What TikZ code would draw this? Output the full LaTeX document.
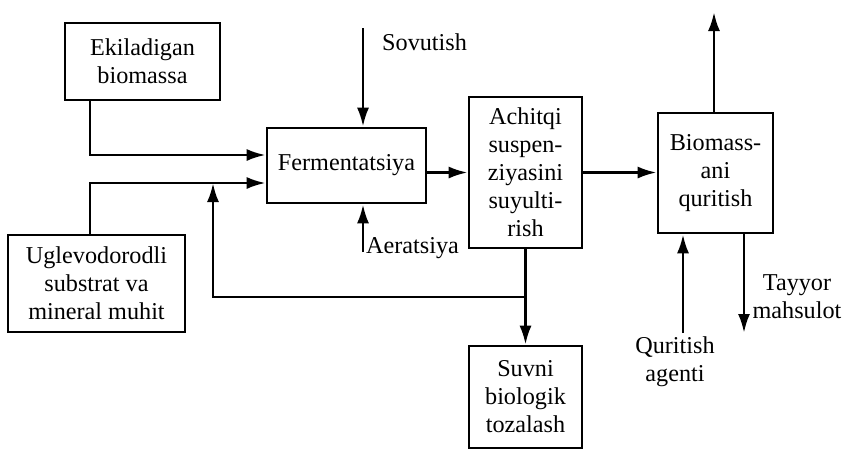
\documentclass[tikz,border=0pt]{standalone}
\usepackage{fontspec}
\setmainfont{Liberation Serif}
\usetikzlibrary{arrows.meta,positioning,calc}
\tikzset{
  base/.style={align=center, inner sep=2pt, font=\fontsize{24.2}{28}\selectfont, text=black},
  card/.style={base, draw=black, line width=2.6pt},
  arr/.style={-{Latex[length=19pt,width=12pt]}, line width=2.8pt},
  lab/.style={base},
}
\begin{document}
\begin{tikzpicture}[x=1pt, y=-1pt]
    \useasboundingbox (0,0) rectangle (846,450);
    \node[card, minimum width=155pt, minimum height=77pt] (eki) at (142.5,61.5) {Ekiladigan\\biomassa};
    \node[card, minimum width=177pt, minimum height=97pt] (ugl) at (96.5,283.5) {Uglevodorodli\\substrat va\\mineral muhit};
    \node[card, minimum width=159pt, minimum height=75pt] (ferm) at (346.5,165.5) {Fermentatsiya};
    \node[card, minimum width=113pt, minimum height=151pt] (achit) at (525.5,172.5) {Achitqi\\suspen-\\ziyasini\\suyulti-\\rish};
    \node[card, minimum width=113pt, minimum height=102pt] (suv) at (525.5,397) {Suvni\\biologik\\tozalash};
    \node[card, minimum width=115pt, minimum height=120pt] (bio) at (715.5,173) {Biomass-\\ani\\quritish};
    % free ends
    \coordinate (sov) at (363,28);
    \coordinate (aer) at (363,252);
    \coordinate (jn) at (525.5,297);
    \coordinate (mix) at (213,183);
    \coordinate (out) at (714,12);
    \coordinate (qa) at (683,333);
    \coordinate (ty) at (744,333);
    % feeds into the fermenter
    \draw[arr] ([xshift=-52.5pt]eki.south) |- ([yshift=10.5pt]ferm.west);
    \draw[arr] ([xshift=-6.5pt]ugl.north) |- ([yshift=-17.5pt]ferm.west);
    \draw[arr] (sov) -- (sov |- ferm.north);
    \draw[arr] (aer) -- (aer |- ferm.south);
    \node[lab, anchor=west] (sovl) at (380,42) {Sovutish};
    \node[lab, anchor=west] (aerl) at (364,248) {Aeratsiya};
    % main line
    \draw[arr] (ferm.east |- achit.west) -- (achit.west);
    \draw[arr] (achit.east) -- (achit.east -| bio.west);
    \draw[arr] (achit.south) -- (suv.north);
    \draw[arr] (jn) -| (mix);
    % dryer
    \draw[arr] (out |- bio.north) -- (out);
    \draw[arr] (qa) -- (qa |- bio.south);
    \draw[arr] (ty |- bio.south) -- (ty);
    \node[lab] (qal) at (675,362) {Quritish\\agenti};
    \node[lab] (tyl) at (797,297) {Tayyor\\mahsulot};
  \end{tikzpicture}
\end{document}
